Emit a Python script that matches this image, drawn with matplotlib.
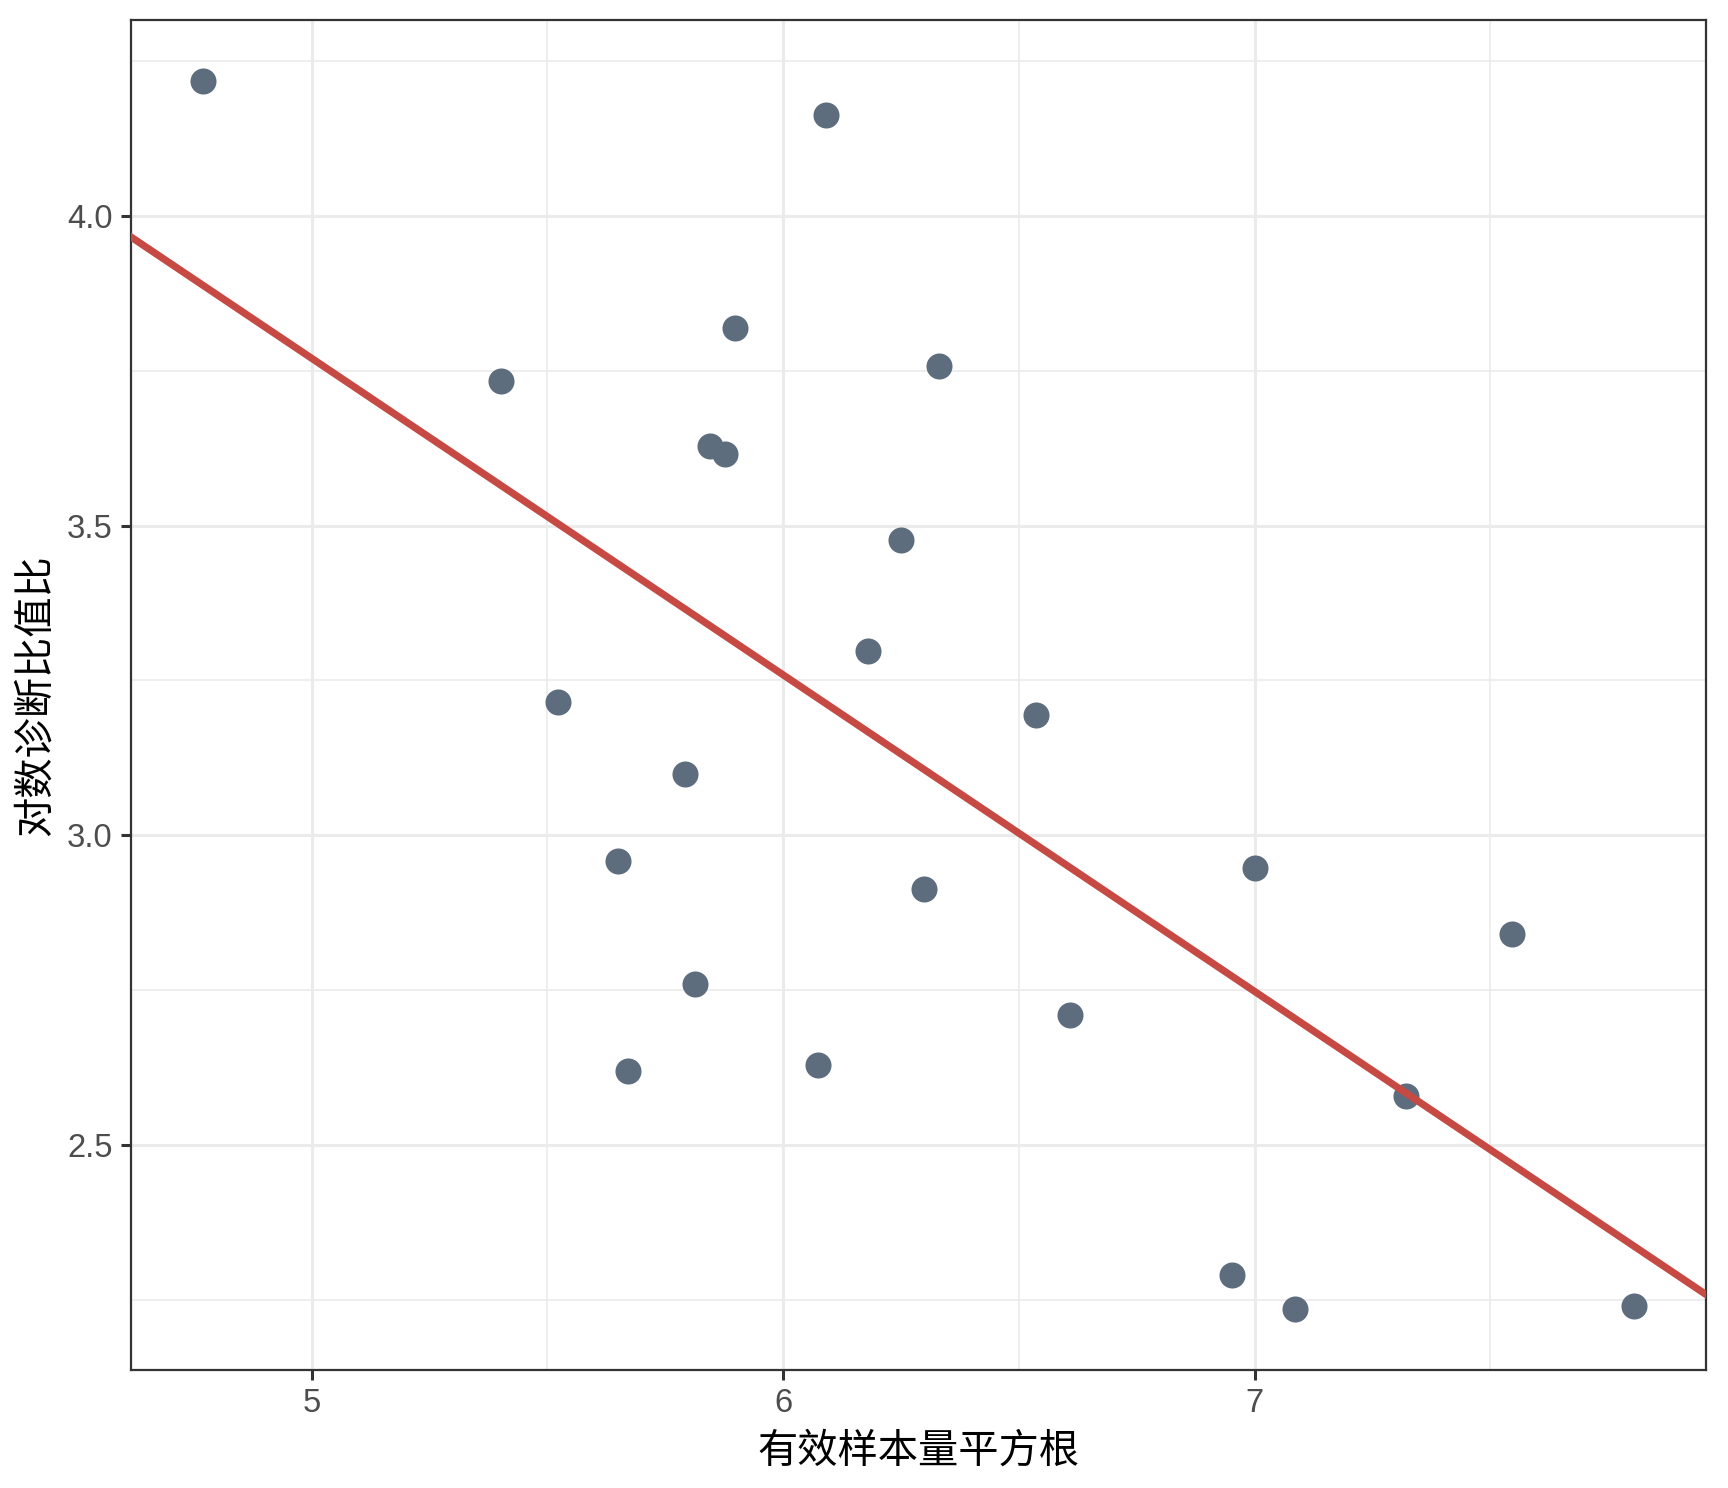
import matplotlib
matplotlib.use("Agg")
import matplotlib.pyplot as plt
from matplotlib.ticker import MultipleLocator

plt.rcParams['font.family'] = ['Liberation Sans', 'Noto Sans CJK SC', 'DejaVu Sans']

# sqrt of effective sample size vs log diagnostic odds ratio
sqrt_ess = [4.769, 6.090, 5.898, 6.330, 5.401, 5.845, 5.877, 6.249, 6.179, 5.523,
            6.536, 5.791, 5.649, 7.000, 6.298, 7.546, 5.814, 6.608, 6.074, 5.672,
            7.320, 6.951, 7.086, 7.805]
log_dor = [4.217, 4.162, 3.819, 3.757, 3.734, 3.629, 3.616, 3.476, 3.297, 3.215,
           3.194, 3.099, 2.959, 2.948, 2.913, 2.840, 2.760, 2.710, 2.629, 2.620,
           2.579, 2.291, 2.236, 2.240]

# regression line
fit_intercept = 6.325
fit_slope = -0.511

x_label = '有效样本量平方根'
y_label = '对数诊断比值比'

fig = plt.figure(figsize=(8.64, 7.44), dpi=200)
ax = fig.add_axes([0.0758, 0.0793, 0.9872 - 0.0758, 0.9866 - 0.0793])

ax.set_xlim(4.617, 7.957)
ax.set_ylim(2.137, 4.316)
ax.xaxis.set_major_locator(MultipleLocator(1))
ax.xaxis.set_minor_locator(MultipleLocator(0.5))
ax.yaxis.set_major_locator(MultipleLocator(0.5))
ax.yaxis.set_minor_locator(MultipleLocator(0.25))
ax.xaxis.set_major_formatter(matplotlib.ticker.FormatStrFormatter('%d'))
ax.yaxis.set_major_formatter(matplotlib.ticker.FormatStrFormatter('%.1f'))

ax.grid(which='major', color='#EBEBEB', linewidth=1.1)
ax.grid(which='minor', color='#EBEBEB', linewidth=0.6)
ax.set_axisbelow(True)

for sp in ax.spines.values():
    sp.set_color('#333333')
    sp.set_linewidth(0.8)

ax.tick_params(which='major', length=3.6, width=1.1, color='#333333',
               labelsize=11.8, labelcolor='#4D4D4D', pad=3.0)
ax.tick_params(which='minor', length=0)

ax.scatter(sqrt_ess, log_dor, s=88, color='#5D6D7E', linewidths=0, zorder=3)
ax.axline((0, fit_intercept), slope=fit_slope, color='#C64A43', linewidth=2.6, zorder=4)

ax.set_xlabel(x_label, fontsize=14.5, color='black', labelpad=4.0,
              family=['Noto Sans CJK SC', 'DejaVu Sans'])
ax.set_ylabel(y_label, fontsize=14.5, color='black', labelpad=4.0,
              family=['Noto Sans CJK SC', 'DejaVu Sans'])

fig.savefig('out.png', dpi=200)
